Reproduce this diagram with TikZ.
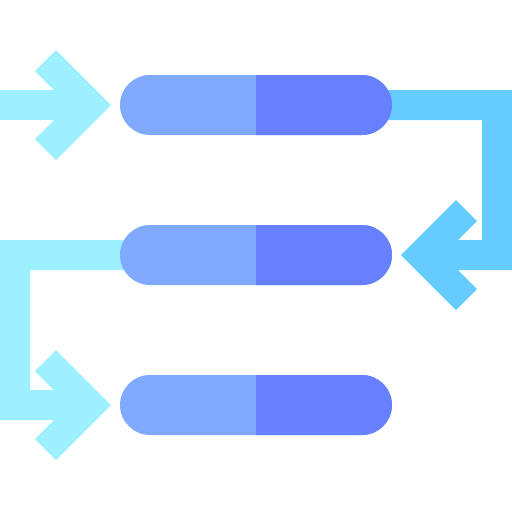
\documentclass[tikz,border=0pt]{standalone}
\definecolor{cyanL}{HTML}{9CF0FF}
\definecolor{cyanM}{HTML}{66CCFF}
\definecolor{pillL}{HTML}{80AAFF}
\definecolor{pillR}{HTML}{6680FF}
\begin{document}
\begin{tikzpicture}[x=1pt,y=-1pt]
\useasboundingbox (0,0) rectangle (512,512);
% arrow 1
\fill[cyanL] (0,90) rectangle (80,120);
\fill[cyanL] (111,105) -- (56,50) -- (35,71) -- (69,105) -- (35,139) -- (56,160) -- cycle;
% right connector
\fill[cyanM] (350,90) -- (512,90) -- (512,270) -- (430,270) -- (430,240) -- (482,240) -- (482,120) -- (350,120) -- cycle;
\fill[cyanM] (401,255) -- (456,200) -- (477,221) -- (443,255) -- (477,289) -- (456,310) -- cycle;
% left connector
\fill[cyanL] (160,240) -- (0,240) -- (0,420) -- (80,420) -- (80,390) -- (30,390) -- (30,270) -- (160,270) -- cycle;
\fill[cyanL] (111,405) -- (56,350) -- (35,371) -- (69,405) -- (35,439) -- (56,460) -- cycle;
% pills
\foreach \ya/\yb in {75/135,225/285,375/435}{
  \fill[pillL,rounded corners=30pt] (120,\ya) rectangle (392,\yb);
  \begin{scope}
    \clip (256,\ya) rectangle (400,\yb);
    \fill[pillR,rounded corners=30pt] (120,\ya) rectangle (392,\yb);
  \end{scope}
}
\end{tikzpicture}
\end{document}
